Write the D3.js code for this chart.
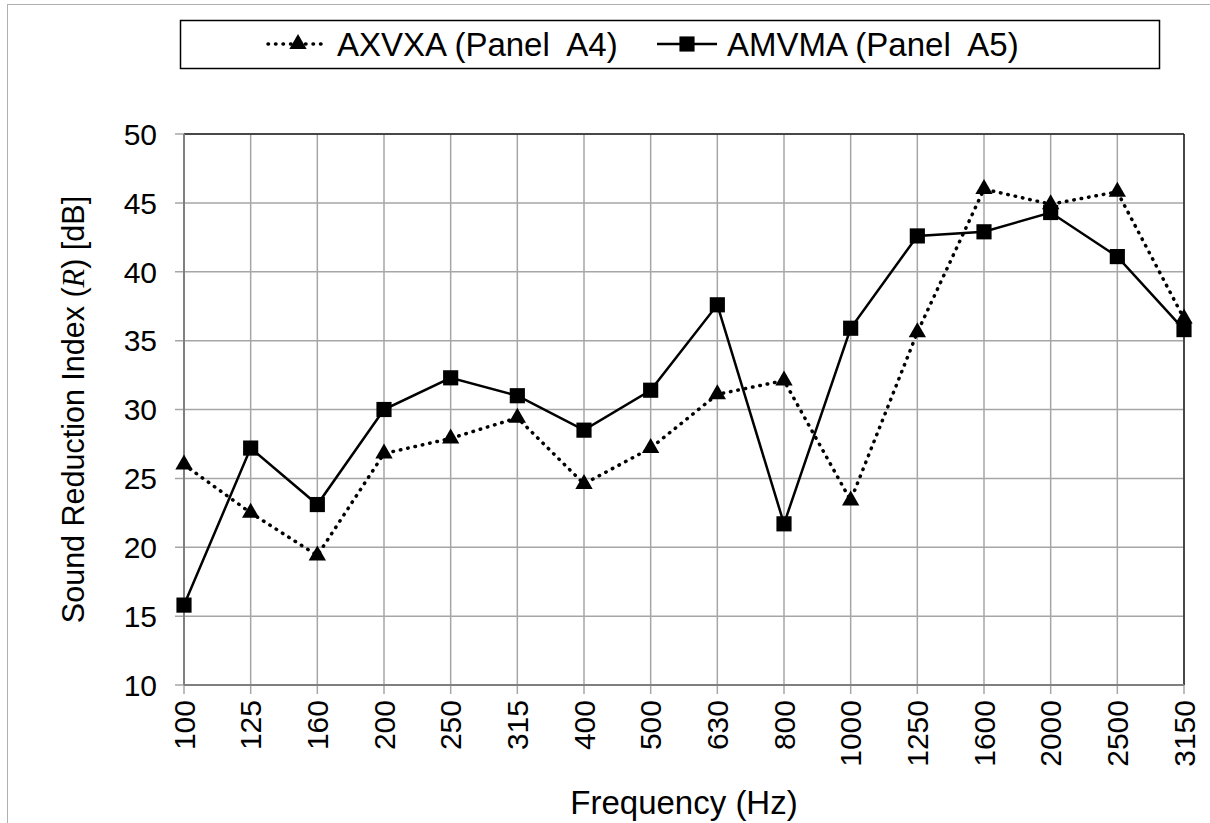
<!DOCTYPE html>
<html><head><meta charset="utf-8">
<script src="https://cdn.jsdelivr.net/npm/d3@7"></script>
<style>body{margin:0;background:#fff}svg{display:block}</style>
</head><body>
<script>
const categories = ["100","125","160","200","250","315","400","500","630","800","1000","1250","1600","2000","2500","3150"];
const seriesA4 = [26.0,22.5,19.4,26.8,27.9,29.4,24.6,27.2,31.1,32.1,23.4,35.6,46.0,44.9,45.8,36.6];
const seriesA5 = [15.8,27.2,23.1,30.0,32.3,31.0,28.5,31.4,37.6,21.7,35.9,42.6,42.9,44.3,41.1,35.8];
const yTicks = [10,15,20,25,30,35,40,45,50];
const seriesNames = ["AXVXA (Panel  A4)", "AMVMA (Panel  A5)"];

const W = 1210, H = 823;
const svg = d3.select("body").append("svg").attr("width", W).attr("height", H);
const font = "'Liberation Sans', Arial, sans-serif";

svg.append("rect").attr("x",7.5).attr("y",4.5).attr("width",1400).attr("height",1000)
  .attr("fill","none").attr("stroke","#b0b0b0").attr("stroke-width",1);

const L = 184, R = 1184, T = 134, B = 685;
const x = d3.scalePoint().domain(categories).range([L, R]).padding(0);
const y = d3.scaleLinear().domain([10, 50]).range([B, T]);

const g = svg.append("g");
g.selectAll(".hg").data(yTicks).join("line")
  .attr("x1", L - 9).attr("x2", R).attr("y1", d => y(d)).attr("y2", d => y(d))
  .attr("stroke", "#a6a6a6").attr("stroke-width", 1.5);
g.selectAll(".vg").data(categories).join("line")
  .attr("x1", d => x(d)).attr("x2", d => x(d)).attr("y1", T).attr("y2", B + 9)
  .attr("stroke", "#a6a6a6").attr("stroke-width", 1.5);

svg.append("line").attr("x1",L).attr("x2",R).attr("y1",T).attr("y2",T).attr("stroke","#222").attr("stroke-width",1.5);
svg.append("line").attr("x1",R).attr("x2",R).attr("y1",T).attr("y2",B).attr("stroke","#222").attr("stroke-width",1.5);
svg.append("line").attr("x1",L).attr("x2",L).attr("y1",T).attr("y2",B).attr("stroke","#7f7f7f").attr("stroke-width",2);
svg.append("line").attr("x1",L).attr("x2",R).attr("y1",B).attr("y2",B).attr("stroke","#7f7f7f").attr("stroke-width",2);

svg.selectAll(".yl").data(yTicks).join("text")
  .attr("x", 157).attr("y", d => y(d)).attr("dy","0.36em")
  .attr("text-anchor","end").attr("font-family",font).attr("font-size",30).attr("fill","#000")
  .text(d => d);

svg.selectAll(".xl").data(categories).join("text")
  .attr("transform", d => `translate(${x(d)},${B + 15}) rotate(-90)`)
  .attr("dy","0.36em").attr("text-anchor","end")
  .attr("font-family",font).attr("font-size",30).attr("fill","#000")
  .text(d => d);

svg.append("text").attr("x", 684).attr("y", 814).attr("text-anchor","middle")
  .attr("font-family",font).attr("font-size",33).text("Frequency (Hz)");
const yt = svg.append("text").attr("transform", `translate(84,${(T+B)/2}) rotate(-90)`)
  .attr("text-anchor","middle").attr("font-family",font).attr("font-size",30.5);
yt.append("tspan").text("Sound Reduction Index (");
yt.append("tspan").attr("font-family","'Liberation Serif', 'Times New Roman', serif").attr("font-style","italic").text("R");
yt.append("tspan").text(") [dB]");

const line = d3.line().x((d,i) => x(categories[i])).y(d => y(d));
svg.append("path").datum(seriesA4).attr("d", line).attr("fill","none")
  .attr("stroke","#000").attr("stroke-width",3.5).attr("stroke-dasharray","0.5,7").attr("stroke-linecap","round");
svg.append("path").datum(seriesA5).attr("d", line).attr("fill","none")
  .attr("stroke","#000").attr("stroke-width",2.5);

const tri = d3.symbol().type(d3.symbolTriangle).size(130);
const sq = d3.symbol().type(d3.symbolSquare).size(230);
svg.selectAll(".m5").data(seriesA5).join("path")
  .attr("transform",(d,i)=>`translate(${x(categories[i])},${y(d)})`).attr("d", sq()).attr("fill","#000");
svg.selectAll(".m4").data(seriesA4).join("path")
  .attr("transform",(d,i)=>`translate(${x(categories[i])},${y(d)})`).attr("d", tri()).attr("fill","#000");

svg.append("rect").attr("x",180.5).attr("y",20.5).attr("width",979).attr("height",48)
  .attr("fill","#fff").attr("stroke","#000").attr("stroke-width",1.5);
const ly = 44;
svg.append("line").attr("x1",268).attr("x2",328).attr("y1",ly).attr("y2",ly)
  .attr("stroke","#000").attr("stroke-width",3.5).attr("stroke-dasharray","0.5,7").attr("stroke-linecap","round");
svg.append("path").attr("transform",`translate(298,${ly})`).attr("d",tri()).attr("fill","#000");
svg.append("text").attr("x",337).attr("y",ly).attr("dy","0.36em").attr("font-family",font).attr("font-size",33)
  .style("white-space","pre").text(seriesNames[0]);
svg.append("line").attr("x1",657).attr("x2",717).attr("y1",ly).attr("y2",ly).attr("stroke","#000").attr("stroke-width",2.5);
svg.append("path").attr("transform",`translate(687,${ly})`).attr("d",sq()).attr("fill","#000");
svg.append("text").attr("x",727).attr("y",ly).attr("dy","0.36em").attr("font-family",font).attr("font-size",33)
  .style("white-space","pre").text(seriesNames[1]);
</script>
</body></html>
